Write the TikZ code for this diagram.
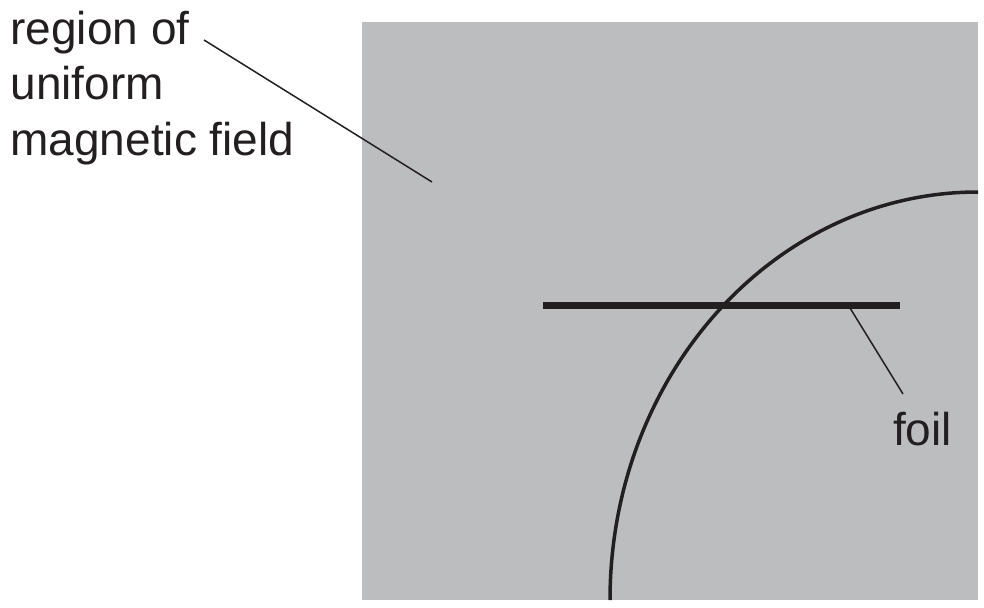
\documentclass[tikz,border=0pt]{standalone}
\usepackage{fontspec}
\setmainfont{Liberation Sans}
\definecolor{fieldgray}{HTML}{BCBDBF}
\definecolor{ink}{HTML}{231F20}
\begin{document}
\begin{tikzpicture}[x=1pt,y=-1pt,
  lbl/.style={anchor=base west,inner sep=0pt,outer sep=0pt,text=ink,font=\fontsize{46}{55}\selectfont},
  leader/.style={draw=ink,line width=1.5pt},
  track/.style={draw=ink,line width=3.5pt},
  foilbar/.style={draw=ink,line width=7pt}]
\useasboundingbox (0,0) rectangle (984,607);
\fill[fieldgray] (362,22) rectangle (978,600);
% labels
\node[lbl] (r1) at (10.5,45) {region of};
\node[lbl] (r2) at (10.5,100) {uniform};
\node[lbl] (r3) at (10.5,155) {magnetic field};
\node[lbl] (foil) at (893,445) {foil};
% leader for region
\coordinate (rs) at (204,40);
\coordinate (re) at (432,182);
\draw[leader] (rs) -- (re);
% foil
\coordinate (fa) at (543,305);
\coordinate (fb) at (900,305);
\draw[foilbar] (fa) -- (fb);
% particle track
\coordinate (ts) at (610,600);
\draw[track] (ts) arc[start angle=180,end angle=270,x radius=368,y radius=408];
% foil leader
\coordinate (ls) at (850,308);
\coordinate (le) at (903,394);
\draw[leader] (ls) -- (le);
\end{tikzpicture}
\end{document}
